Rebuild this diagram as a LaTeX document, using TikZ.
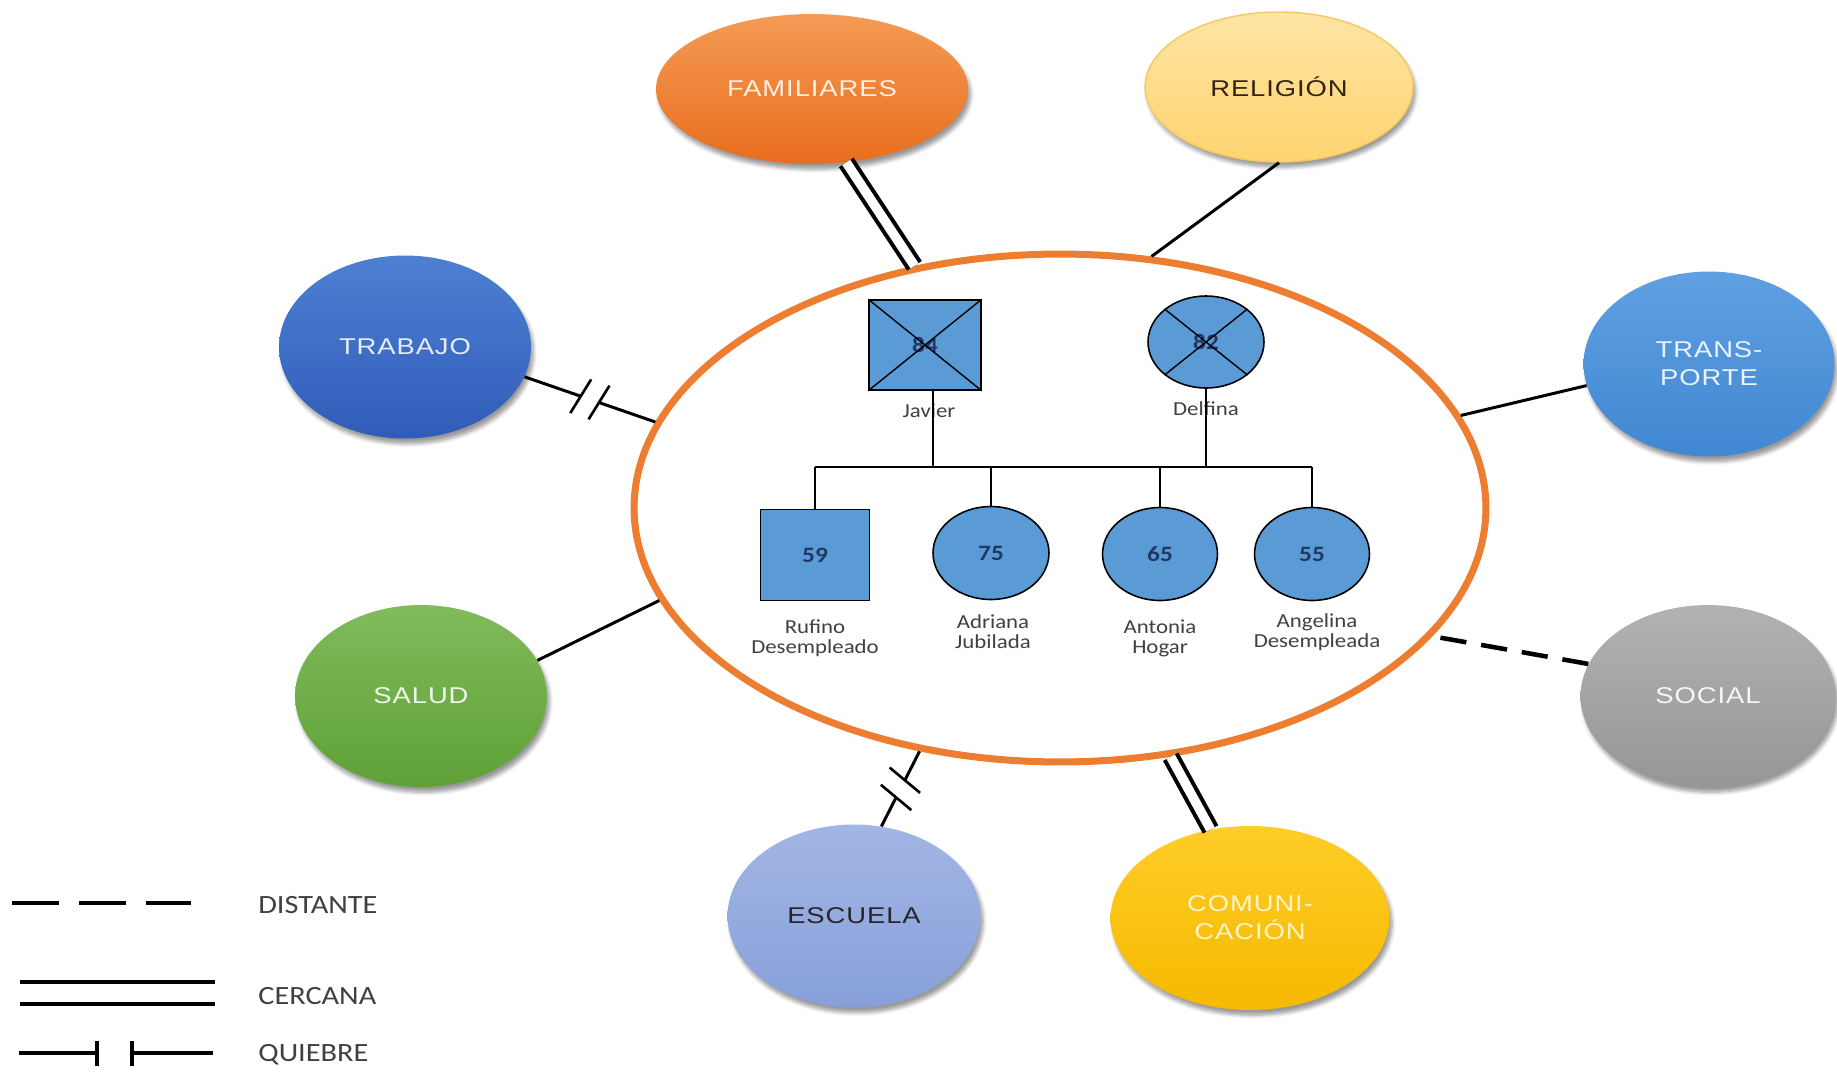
\documentclass[tikz,border=0pt]{standalone}
\usepackage{fontspec}
\setmainfont{Liberation Sans}
\newfontfamily\ovalfont[FakeStretch=1.2,LetterSpace=4]{Liberation Sans}
\newfontfamily\genofont[FakeStretch=1.15]{Carlito}
\usetikzlibrary{shapes, positioning, calc, shadows.blur, decorations.markings}
\definecolor{ringOrange}{RGB}{237, 125, 49}
\definecolor{famTop}{RGB}{244, 155, 85}
\definecolor{famBot}{RGB}{232, 110, 30}
\definecolor{relTop}{RGB}{255, 228, 165}
\definecolor{relBot}{RGB}{255, 212, 112}
\definecolor{relLine}{RGB}{246, 200, 95}
\definecolor{trabTop}{RGB}{78, 128, 210}
\definecolor{trabBot}{RGB}{48, 92, 185}
\definecolor{transTop}{RGB}{95, 160, 225}
\definecolor{transBot}{RGB}{65, 135, 210}
\definecolor{saludTop}{RGB}{128, 188, 90}
\definecolor{saludBot}{RGB}{95, 160, 55}
\definecolor{socialTop}{RGB}{178, 178, 178}
\definecolor{socialBot}{RGB}{150, 150, 150}
\definecolor{escTop}{RGB}{162, 182, 228}
\definecolor{escBot}{RGB}{136, 160, 218}
\definecolor{comTop}{RGB}{255, 205, 40}
\definecolor{comBot}{RGB}{245, 185, 0}
\definecolor{genoBlue}{RGB}{91, 155, 213}
\definecolor{numNavy}{RGB}{31, 56, 100}
\definecolor{textGray}{RGB}{64, 64, 64}

\begin{document}
\begin{tikzpicture}[
    x=0.02cm, y=-0.02cm,
    % Estilo base para los sistemas externos
    sistema/.style={
        ellipse,
        inner sep=0pt,
        align=center,
        font=\ovalfont\fontsize{13}{16}\selectfont,
        blur shadow={shadow xshift=1.5pt, shadow yshift=-3pt, shadow blur steps=6, shadow opacity=40}
    },
    % Estilos del genograma
    varon/.style={
        rectangle, draw=black, fill=genoBlue, line width=0.9pt, inner sep=0pt,
        font=\genofont\bfseries\fontsize{12.5}{14}\selectfont, text=numNavy
    },
    mujer/.style={
        ellipse, draw=black, fill=genoBlue, line width=0.9pt, inner sep=0pt,
        font=\genofont\bfseries\fontsize{12.5}{14}\selectfont, text=numNavy
    },
    nombre/.style={
        align=center, inner sep=1pt, text=textGray,
        font=\genofont\fontsize{11.3}{11.5}\selectfont
    },
    linea/.style={line width=0.8pt, black},
    % Estilos de los vinculos
    vinculo/.style={line width=1.7pt, black},
    distante/.style={line width=2.6pt, black, dash pattern=on 15pt off 8.5pt},
    cercana/.style={line width=2.3pt, black, double=white, double distance=5.4pt},
    quiebre/.style={
        vinculo,
        postaction={decorate},
        decoration={markings, mark=at position 0.5 with {
            \fill[white] (-5.5pt,-1.5pt) rectangle (5.5pt,1.5pt);
            \draw[line width=1.5pt] (-8pt,-11pt) -- (-3pt,11pt) (3pt,-11pt) -- (8pt,11pt);
        }}
    },
    % Leyenda
    leyenda/.style={line width=1.9pt, black},
    leyenda_texto/.style={anchor=west, inner sep=0pt, text=textGray, font=\genofont\fontsize{15}{18}\selectfont}
]
    \useasboundingbox (0,0) rectangle (1837,1076);

    % --- 1. Familia (anillo central) ---
    \node[ellipse, draw=ringOrange, line width=4pt, minimum width=17.04cm, minimum height=10.16cm] (ring) at (1060,508) {};

    % --- 2. Sistemas externos ---
    \node[sistema, minimum width=6.24cm, minimum height=3.0cm, top color=famTop, bottom color=famBot, text={rgb,255:red,255;green,240;blue,225}] (familiares) at (812,89) {FAMILIARES};
    \node[sistema, minimum width=5.36cm, minimum height=3.0cm, top color=relTop, bottom color=relBot, draw=relLine, line width=0.8pt, text={rgb,255:red,50;green,35;blue,20}] (religion) at (1279,87) {RELIGIÓN};
    \node[sistema, minimum width=5.04cm, minimum height=3.66cm, top color=trabTop, bottom color=trabBot, text={rgb,255:red,230;green,236;blue,250}] (trabajo) at (405,347) {TRABAJO};
    \node[sistema, minimum width=5.02cm, minimum height=3.7cm, top color=transTop, bottom color=transBot, text={rgb,255:red,235;green,243;blue,255}] (transporte) at (1709,364) {TRANS-\\PORTE};
    \node[sistema, minimum width=5.04cm, minimum height=3.64cm, top color=saludTop, bottom color=saludBot, text={rgb,255:red,240;green,248;blue,235}] (salud) at (421,696) {SALUD};
    \node[sistema, minimum width=5.1cm, minimum height=3.64cm, top color=socialTop, bottom color=socialBot, text={rgb,255:red,246;green,246;blue,246}] (social) at (1708,696) {SOCIAL};
    \node[sistema, minimum width=5.06cm, minimum height=3.66cm, top color=escTop, bottom color=escBot, text={rgb,255:red,38;green,38;blue,38}] (escuela) at (854,916) {ESCUELA};
    \node[sistema, minimum width=5.58cm, minimum height=3.68cm, top color=comTop, bottom color=comBot, text={rgb,255:red,255;green,243;blue,200}] (comunicacion) at (1250,918) {COMUNI-\\CACIÓN};

    % Vinculos con la familia
    \draw[cercana] (familiares.-65) -- (ring.121.7);
    \draw[vinculo] (religion.south) -- (ring.70);
    \draw[quiebre] (trabajo.-14.6) -- (ring.168.5);
    \draw[vinculo] (transporte.190) -- (ring.13);
    \draw[vinculo] (salud.17.6) -- (ring.193.7);
    \draw[distante] (social.165.7) -- (ring.-19.8);
    \draw[quiebre] (escuela.73) -- (ring.-120.6);
    \draw[cercana] (comunicacion.114.5) -- (ring.-66);

    % --- 3. Genograma ---
    % Padres (fallecidos)
    \node[varon, minimum width=2.24cm, minimum height=1.8cm] (javier) at (925,345) {84};
    \node[mujer, minimum width=2.32cm, minimum height=1.84cm] (delfina) at (1206,342) {82};
    \draw[linea] (javier.north west) -- (javier.south east) (javier.north east) -- (javier.south west);
    \draw[linea] (delfina.north west) -- (delfina.south east) (delfina.north east) -- (delfina.south west);
    \node[nombre] (javier_txt) at (929,411) {Javier};
    \node[nombre] (delfina_txt) at (1206,409) {Delfina};

    % Hijos
    \node[varon, minimum width=2.18cm, minimum height=1.82cm] (rufino) at (815,555) {59};
    \node[mujer, minimum width=2.32cm, minimum height=1.86cm] (adriana) at (991,553) {75};
    \node[mujer, minimum width=2.3cm, minimum height=1.86cm] (antonia) at (1160,554) {65};
    \node[mujer, minimum width=2.3cm, minimum height=1.86cm] (angelina) at (1312,554) {55};
    \node[nombre] (rufino_txt) at (815,638) {Rufino\\Desempleado};
    \node[nombre] (adriana_txt) at (993,632) {Adriana\\Jubilada};
    \node[nombre] (antonia_txt) at (1160,638) {Antonia\\Hogar};
    \node[nombre] (angelina_txt) at (1317,632) {Angelina\\Desempleada};

    % Lineas de parentesco
    \coordinate (barra) at (0,467);
    \coordinate (javier_baja) at ([xshift=4.5pt]javier.south);
    \draw[linea] (rufino |- barra) -- (angelina |- barra);
    \draw[linea] (javier_baja) -- (javier_baja |- barra);
    \draw[linea] (delfina.south) -- (delfina |- barra);
    \draw[linea] (rufino.north) -- (rufino |- barra);
    \draw[linea] (adriana.north) -- (adriana |- barra);
    \draw[linea] (antonia.north) -- (antonia |- barra);
    \draw[linea] (angelina.north) -- (angelina |- barra);

    % --- 4. Leyenda ---
    \coordinate (dist_a) at (12,903);
    \coordinate (dist_b) at (191,903);
    \draw[leyenda, dash pattern=on 27pt off 11pt] (dist_a) -- (dist_b);
    \node[leyenda_texto] (txt_dist) at (258,905) {DISTANTE};

    \coordinate (cerc_a) at (20,993);
    \coordinate (cerc_b) at (215,993);
    \draw[leyenda, double=white, double distance=10.6pt] (cerc_a) -- (cerc_b);
    \node[leyenda_texto] (txt_cerc) at (258,996) {CERCANA};

    \coordinate (quie_a) at (19,1053);
    \draw[leyenda] (quie_a) -- ++(78,0) ++(0,-12.5) -- ++(0,25) ++(35,0) -- ++(0,-25) ++(0,12.5) -- ++(81,0);
    \node[leyenda_texto] (txt_quie) at (258,1055) {QUIEBRE};

\end{tikzpicture}
\end{document}
